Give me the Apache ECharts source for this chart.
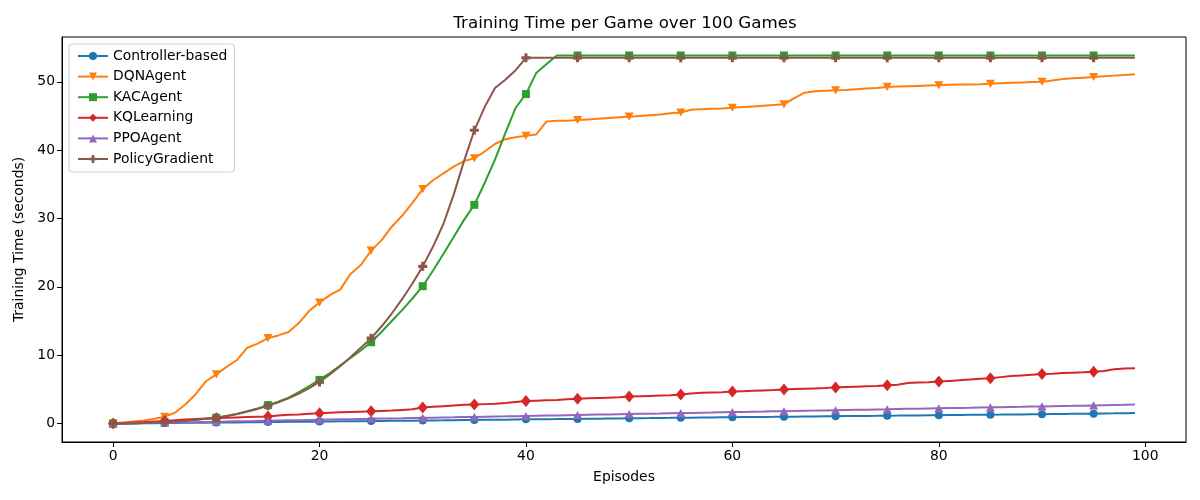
<!DOCTYPE html>
<html lang="en">
<head>
  <meta charset="UTF-8">
  <title>Training Time per Game</title>
  <style type="text/css">
    * {
      margin: 0;
      padding: 0;
    }
    html, body {
      width: 100%;
      height: 100%;
      overflow: hidden;
      background: #fff;
    }
    #main {
      width: 1200px;
      height: 500px;
    }
  </style>
  <script type="text/javascript" src="https://cdn.jsdelivr.net/npm/echarts@6/dist/echarts.min.js"></script>
</head>
<body>
<div id="main"></div>
<script type="text/javascript">
  // values, one per episode (0..99)
  var controllerBased = [
    0.00, 0.02, 0.03, 0.05, 0.06, 0.08, 0.09, 0.11, 0.12, 0.14,
    0.15, 0.17, 0.18, 0.20, 0.21, 0.22, 0.24, 0.26, 0.27, 0.28,
    0.30, 0.32, 0.33, 0.34, 0.36, 0.38, 0.39, 0.41, 0.42, 0.43,
    0.45, 0.47, 0.48, 0.50, 0.52, 0.53, 0.55, 0.57, 0.58, 0.60,
    0.62, 0.63, 0.65, 0.66, 0.68, 0.69, 0.71, 0.72, 0.74, 0.76,
    0.78, 0.80, 0.81, 0.83, 0.84, 0.86, 0.87, 0.89, 0.90, 0.92,
    0.93, 0.95, 0.96, 0.98, 0.99, 1.01, 1.02, 1.04, 1.05, 1.07,
    1.08, 1.10, 1.11, 1.13, 1.14, 1.16, 1.17, 1.19, 1.20, 1.22,
    1.23, 1.25, 1.26, 1.28, 1.29, 1.31, 1.32, 1.34, 1.35, 1.37,
    1.38, 1.40, 1.41, 1.43, 1.44, 1.46, 1.48, 1.50, 1.53, 1.55
  ];
  var dqnAgent = [
    0.0, 0.15, 0.3, 0.45, 0.7, 1.0, 1.6, 2.8, 4.3, 6.2,
    7.2, 8.3, 9.3, 11.1, 11.7, 12.5, 12.9, 13.4, 14.7, 16.5,
    17.7, 18.8, 19.6, 21.9, 23.2, 25.3, 26.8, 28.8, 30.4, 32.3,
    34.3, 35.6, 36.6, 37.6, 38.4, 38.8, 39.8, 40.9, 41.6, 41.9,
    42.1, 42.3, 44.2, 44.3, 44.3, 44.4, 44.5, 44.6, 44.7, 44.8,
    44.9, 45.0, 45.1, 45.2, 45.4, 45.5, 45.9, 46.0, 46.05, 46.1,
    46.2, 46.3, 46.4, 46.5, 46.6, 46.7, 47.6, 48.4, 48.6, 48.7,
    48.75, 48.8, 48.9, 49.0, 49.1, 49.25, 49.3, 49.35, 49.4, 49.45,
    49.5, 49.55, 49.6, 49.62, 49.65, 49.7, 49.8, 49.85, 49.9, 49.95,
    50.0, 50.2, 50.4, 50.5, 50.6, 50.7, 50.8, 50.9, 51.0, 51.1
  ];
  var kacAgent = [
    0.0, 0.02, 0.05, 0.1, 0.15, 0.2, 0.3, 0.4, 0.55, 0.7,
    0.85, 1.1, 1.4, 1.8, 2.2, 2.7, 3.2, 3.8, 4.6, 5.5,
    6.4, 7.4, 8.5, 9.6, 10.7, 11.9, 13.4, 15.0, 16.6, 18.3,
    20.1, 22.4, 24.8, 27.3, 29.8, 32.0, 35.2, 38.6, 42.5, 46.2,
    48.2, 51.3, 52.6, 53.85, 53.85, 53.85, 53.85, 53.85, 53.85, 53.85,
    53.85, 53.85, 53.85, 53.85, 53.85, 53.85, 53.85, 53.85, 53.85, 53.85,
    53.85, 53.85, 53.85, 53.85, 53.85, 53.85, 53.85, 53.85, 53.85, 53.85,
    53.85, 53.85, 53.85, 53.85, 53.85, 53.85, 53.85, 53.85, 53.85, 53.85,
    53.85, 53.85, 53.85, 53.85, 53.85, 53.85, 53.85, 53.85, 53.85, 53.85,
    53.85, 53.85, 53.85, 53.85, 53.85, 53.85, 53.85, 53.85, 53.85, 53.85
  ];
  var kqLearning = [
    0.0, 0.08, 0.15, 0.22, 0.3, 0.38, 0.5, 0.6, 0.68, 0.75,
    0.8, 0.85, 0.9, 0.95, 1.0, 1.05, 1.2, 1.3, 1.35, 1.45,
    1.5, 1.6, 1.65, 1.7, 1.75, 1.8, 1.85, 1.9, 2.0, 2.1,
    2.35, 2.45, 2.55, 2.65, 2.75, 2.8, 2.85, 2.9, 3.0, 3.15,
    3.3, 3.35, 3.4, 3.45, 3.55, 3.65, 3.7, 3.75, 3.8, 3.85,
    3.95, 4.0, 4.05, 4.1, 4.15, 4.25, 4.4, 4.5, 4.55, 4.6,
    4.7, 4.75, 4.8, 4.85, 4.9, 5.0, 5.05, 5.1, 5.15, 5.2,
    5.3, 5.35, 5.4, 5.45, 5.5, 5.6, 5.7, 5.95, 6.0, 6.05,
    6.15, 6.25, 6.35, 6.45, 6.55, 6.65, 6.8, 6.95, 7.05, 7.15,
    7.25, 7.3, 7.4, 7.45, 7.5, 7.6, 7.7, 7.95, 8.05, 8.1
  ];
  var ppoAgent = [
    0.00, 0.03, 0.06, 0.08, 0.11, 0.14, 0.17, 0.20, 0.22, 0.25,
    0.28, 0.31, 0.34, 0.36, 0.39, 0.42, 0.45, 0.48, 0.50, 0.53,
    0.56, 0.59, 0.62, 0.64, 0.67, 0.70, 0.73, 0.76, 0.78, 0.81,
    0.84, 0.87, 0.90, 0.92, 0.95, 0.98, 1.01, 1.04, 1.06, 1.09,
    1.12, 1.15, 1.18, 1.20, 1.23, 1.26, 1.29, 1.32, 1.34, 1.37,
    1.40, 1.43, 1.46, 1.48, 1.51, 1.54, 1.57, 1.60, 1.62, 1.65,
    1.68, 1.71, 1.74, 1.76, 1.79, 1.82, 1.85, 1.88, 1.90, 1.93,
    1.96, 1.99, 2.02, 2.04, 2.07, 2.10, 2.13, 2.16, 2.18, 2.21,
    2.24, 2.27, 2.30, 2.32, 2.35, 2.38, 2.41, 2.44, 2.46, 2.49,
    2.52, 2.55, 2.58, 2.60, 2.63, 2.66, 2.69, 2.72, 2.75, 2.80
  ];
  var policyGradient = [
    0.0, 0.02, 0.05, 0.1, 0.15, 0.2, 0.3, 0.4, 0.55, 0.7,
    0.85, 1.1, 1.4, 1.75, 2.15, 2.6, 3.1, 3.7, 4.4, 5.2,
    6.1, 7.2, 8.4, 9.7, 11.1, 12.5, 14.2, 16.1, 18.2, 20.5,
    23.0, 25.9, 29.2, 33.5, 38.4, 42.9, 46.3, 49.1, 50.3, 51.7,
    53.5, 53.5, 53.5, 53.5, 53.5, 53.5, 53.5, 53.5, 53.5, 53.5,
    53.5, 53.5, 53.5, 53.5, 53.5, 53.5, 53.5, 53.5, 53.5, 53.5,
    53.5, 53.5, 53.5, 53.5, 53.5, 53.5, 53.5, 53.5, 53.5, 53.5,
    53.5, 53.5, 53.5, 53.5, 53.5, 53.5, 53.5, 53.5, 53.5, 53.5,
    53.5, 53.5, 53.5, 53.5, 53.5, 53.5, 53.5, 53.5, 53.5, 53.5,
    53.5, 53.5, 53.5, 53.5, 53.5, 53.5, 53.5, 53.5, 53.5, 53.5
  ];
  var xTicks = [0, 20, 40, 60, 80, 100];
  var yTicks = [0, 10, 20, 30, 40, 50];

  var font = 'DejaVu Sans';
  // name, values, colour, marker, marker size
  var lines = [
    ['Controller-based', controllerBased, '#1f77b4', 'circle', 8],
    ['DQNAgent', dqnAgent, '#ff7f0e', 'path://M0,0 L10,0 L5,9 Z', 9],
    ['KACAgent', kacAgent, '#2ca02c', 'rect', 8],
    ['KQLearning', kqLearning, '#d62728', 'diamond', [10, 12]],
    ['PPOAgent', ppoAgent, '#9467bd', 'path://M5,0 L10,9 L0,9 Z', 9],
    ['PolicyGradient', policyGradient, '#8c564b', 'path://M3.3,0 H6.7 V3.3 H10 V6.7 H6.7 V10 H3.3 V6.7 H0 V3.3 H3.3 Z', 9]
  ];

  var series = lines.map(function (l) {
    return {
      name: l[0],
      type: 'line',
      data: l[1].map(function (v, i) { return [i, v]; }),
      symbol: l[3],
      symbolKeepAspect: l[0] !== 'KQLearning',
      showAllSymbol: true,
      symbolSize: function (val, p) {
        return p.dataIndex % 5 === 0 ? l[4] : 0;
      },
      lineStyle: { color: l[2], width: 2 },
      itemStyle: { color: l[2] },
      emphasis: { disabled: true }
    };
  });

  var myChart = echarts.init(document.getElementById('main'));
  var option = {
    animation: false,
    backgroundColor: '#fff',
    textStyle: { fontFamily: font },
    title: {
      text: 'Training Time per Game over 100 Games',
      left: 620,
      top: 10,
      textAlign: 'center',
      textStyle: { fontFamily: font, fontSize: 16.7, fontWeight: 'normal', color: '#000' }
    },
    legend: {
      orient: 'vertical',
      left: 69,
      top: 44,
      padding: [5, 7, 6, 8],
      itemWidth: 30,
      itemHeight: 10,
      itemGap: 6.6,
      backgroundColor: '#fff',
      borderColor: '#d0d0d0',
      borderWidth: 1,
      borderRadius: 3,
      textStyle: { fontFamily: font, fontSize: 13.9, color: '#000' },
      data: lines.map(function (l) { return l[0]; })
    },
    grid: {
      left: 62,
      right: 14,
      top: 37,
      bottom: 58,
      show: true,
      borderColor: '#000',
      borderWidth: 1,
      backgroundColor: 'transparent'
    },
    xAxis: {
      type: 'value',
      min: -4.95,
      max: 103.95,
      name: 'Episodes',
      nameLocation: 'middle',
      nameGap: 28,
      nameTextStyle: { fontFamily: font, fontSize: 13.9, color: '#000' },
      axisLine: { show: true, onZero: false, lineStyle: { color: '#000' } },
      axisTick: { show: true, customValues: xTicks, length: 5, lineStyle: { color: '#000' } },
      axisLabel: { customValues: xTicks, fontFamily: font, fontSize: 13.9, color: '#000', margin: 7 },
      splitLine: { show: false }
    },
    yAxis: {
      type: 'value',
      min: -2.69,
      max: 56.55,
      name: 'Training Time (seconds)',
      nameLocation: 'middle',
      nameGap: 36,
      nameTextStyle: { fontFamily: font, fontSize: 13.9, color: '#000' },
      axisLine: { show: true, onZero: false, lineStyle: { color: '#000' } },
      axisTick: { show: true, customValues: yTicks, length: 5, lineStyle: { color: '#000' } },
      axisLabel: { customValues: yTicks, fontFamily: font, fontSize: 13.9, color: '#000', margin: 7 },
      splitLine: { show: false }
    },
    series: series
  };
  myChart.setOption(option);
</script>
</body>
</html>
